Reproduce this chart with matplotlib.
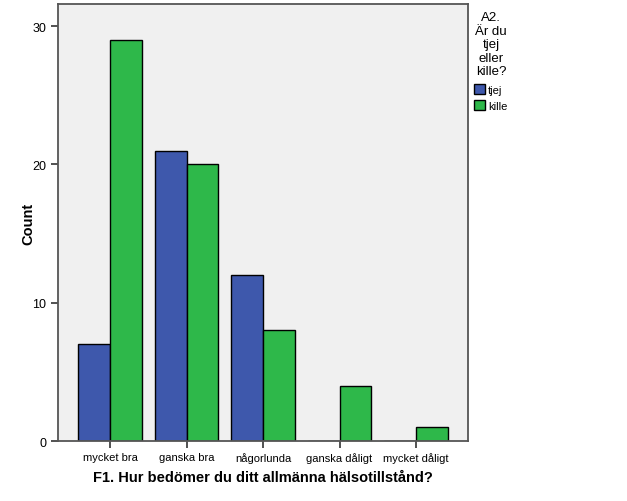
import numpy as np
import matplotlib.pyplot as plt

plt.rcParams['font.family'] = ['Liberation Sans', 'DejaVu Sans']

# kategorier och antal
kategorier = ['mycket bra', 'ganska bra', 'någorlunda', 'ganska dåligt', 'mycket dåligt']
tjej = [7, 21, 12, 0, 0]
kille = [29, 20, 8, 4, 1]

blue = '#3E58AC'
green = '#2EB84A'

fig = plt.figure(figsize=(6.27, 5.02), dpi=100)
ax = fig.add_axes([0.0925, 0.1195, 0.654, 0.8705])
ax.set_facecolor('#F0F0F0')

x = np.arange(len(kategorier))
w = 0.413
ax.bar(x - w / 2, tjej, w, color=blue, edgecolor='black', linewidth=1, label='tjej')
ax.bar(x + w / 2, kille, w, color=green, edgecolor='black', linewidth=1, label='kille')

ax.set_xlim(-0.68, 4.68)
ax.set_ylim(0, 31.6)
ax.set_yticks([0, 10, 20, 30])
ax.set_xticks(x)
ax.set_xticklabels(kategorier)
ax.tick_params(axis='both', length=5, width=1.2, color='#333333')
ax.tick_params(axis='x', labelsize=8, pad=3)
ax.tick_params(axis='y', labelsize=9)
for s in ax.spines.values():
    s.set_color('#555555')
    s.set_linewidth(1.3)

ax.set_ylabel('Count', fontsize=10.5, fontweight='bold', labelpad=-2)
ax.set_xlabel('F1. Hur bedömer du ditt allmänna hälsotillstånd?', fontsize=10.5,
              fontweight='bold', labelpad=5)

# legendrubrik, centrerad
fig.text(491 / 627, 1 - 12 / 502, 'A2.\nÄr du\ntjej\neller\nkille?', ha='center',
         va='top', fontsize=9.5, linespacing=1.17)

leg = ax.legend(loc='upper left', bbox_to_anchor=(474 / 627, 1 - 85 / 502),
                bbox_transform=fig.transFigure, frameon=False, fontsize=8,
                handlelength=1.0, handleheight=1.0, handletextpad=0.25,
                labelspacing=0.5, borderaxespad=0, borderpad=0)

fig.savefig('out.png', dpi=100)
